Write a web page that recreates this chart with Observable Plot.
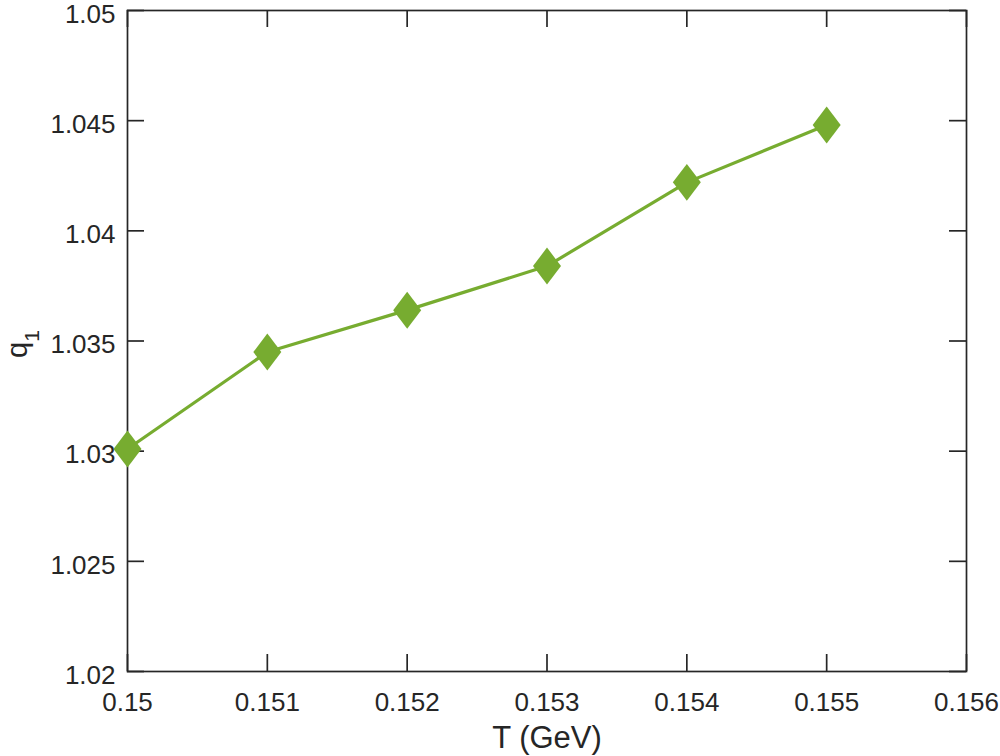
<!DOCTYPE html>
<html><head><meta charset="utf-8">
<script src="https://cdn.jsdelivr.net/npm/d3@7"></script>
<script src="https://cdn.jsdelivr.net/npm/@observablehq/plot@0.6"></script>
<style>
body{margin:0;background:#fff;}
#chart svg{display:block;}
</style>
</head><body><div id="chart"></div>
<script>
// ---- data ----
const temperatures = [0.150, 0.151, 0.152, 0.153, 0.154, 0.155];
const q1Values = [1.0301, 1.0345, 1.0364, 1.0384, 1.0422, 1.0448];
const xTickValues = [0.150, 0.151, 0.152, 0.153, 0.154, 0.155, 0.156];
const xTickLabels = ["0.15", "0.151", "0.152", "0.153", "0.154", "0.155", "0.156"];
const yTickValues = [1.020, 1.025, 1.030, 1.035, 1.040, 1.045, 1.050];
const yTickLabels = ["1.02", "1.025", "1.03", "1.035", "1.04", "1.045", "1.05"];
const xAxisLabel = "T (GeV)";
const yAxisLabelMain = "q";
const yAxisLabelSub = "1";

// ---- layout / style ----
const W = 1000, H = 756, mL = 127, mR = 34, mT = 10, mB = 85;
const innerW = W - mL - mR, innerH = H - mT - mB;
const tickLen = 17;
const ink = "#262626", green = "#77AC30";
const font = "'Liberation Sans', Arial, Helvetica, sans-serif";

const data = temperatures.map((t, i) => ({t, q: q1Values[i]}));

const tallDiamond = {
  draw(ctx, size) {
    const r = Math.sqrt(size / Math.PI);
    const w = r, h = r * 1.32;
    ctx.moveTo(0, -h); ctx.lineTo(w, 0); ctx.lineTo(0, h); ctx.lineTo(-w, 0); ctx.closePath();
  }
};

const chart = Plot.plot({
  width: W, height: H,
  marginLeft: mL, marginRight: mR, marginTop: mT, marginBottom: mB,
  style: {fontFamily: font, color: ink, background: "#fff"},
  x: {domain: [0.150, 0.156]},
  y: {domain: [1.020, 1.050]},
  marks: [
    Plot.frame({stroke: ink, strokeWidth: 1.7}),
    Plot.tickX(xTickValues, {x: d => d, insetTop: innerH - tickLen, stroke: ink, strokeWidth: 1.7}),
    Plot.tickX(xTickValues, {x: d => d, insetBottom: innerH - tickLen, stroke: ink, strokeWidth: 1.7}),
    Plot.tickY(yTickValues, {y: d => d, insetRight: innerW - tickLen, stroke: ink, strokeWidth: 1.7}),
    Plot.tickY(yTickValues, {y: d => d, insetLeft: innerW - tickLen, stroke: ink, strokeWidth: 1.7}),
    Plot.axisX(xTickValues, {tickSize: 0, tickPadding: 21, fontSize: 26, label: null,
      tickFormat: d => xTickLabels[xTickValues.indexOf(d)], fill: ink}),
    Plot.axisY(yTickValues, {tickSize: 0, tickPadding: 12, fontSize: 26, label: null, dy: 4,
      tickFormat: d => yTickLabels[yTickValues.indexOf(d)], fill: ink}),
    Plot.text([xAxisLabel], {frameAnchor: "bottom", lineAnchor: "bottom", dy: 76, fontSize: 31, fill: ink}),
    Plot.line(data, {x: "t", y: "q", stroke: green, strokeWidth: 3.2}),
    Plot.dot(data, {x: "t", y: "q", symbol: tallDiamond, r: 14, fill: green, stroke: "none"})
  ]
});

document.getElementById("chart").appendChild(chart);

// y-axis label with a subscript
const svg = d3.select(chart);
const yl = svg.append("text")
  .attr("transform", `translate(27, 358) rotate(-90)`)
  .attr("text-anchor", "start")
  .attr("fill", ink)
  .style("font-family", font)
  .style("font-size", "29px");
yl.append("tspan").text(yAxisLabelMain);
yl.append("tspan").attr("dy", 12).style("font-size", "21px").text(yAxisLabelSub);
</script>
</body></html>
